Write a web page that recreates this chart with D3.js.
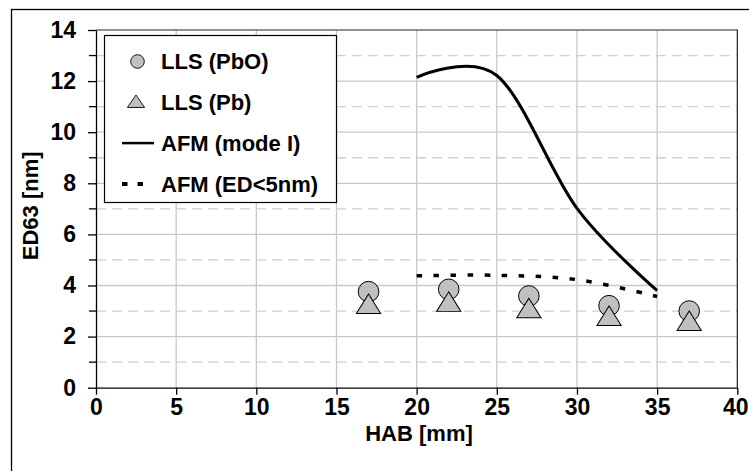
<!DOCTYPE html>
<html>
<head>
<meta charset="utf-8">
<script src="https://cdn.jsdelivr.net/npm/d3@7"></script>
<style>
  body { margin: 0; background: #fff; }
  svg { display: block; font-family: "Liberation Sans", Arial, sans-serif; font-weight: bold; }
</style>
</head>
<body>
<svg id="chart"></svg>
<script>
var hab = [17, 22, 27, 32, 37]
var llsPbO = [3.76, 3.85, 3.59, 3.21, 3.0]
var llsPb = [3.22, 3.3, 3.05, 2.75, 2.55]

var afmHab = [20, 25, 30, 35]
var afmMode1 = [12.15, 12.22, 7.02, 3.8]
var afmSmall = [4.38, 4.4, 4.23, 3.57]

var xTicks = [0, 5, 10, 15, 20, 25, 30, 35, 40]
var yTicks = [0, 2, 4, 6, 8, 10, 12, 14]
var yMinor = [1, 3, 5, 7, 9, 11, 13]

var legendItems = ["LLS (PbO)", "LLS (Pb)", "AFM (mode I)", "AFM (ED<5nm)"]

var width = 749, height = 471
var margin = ({top: 30, right: 11.7, bottom: 83.3, left: 96})

var svg = d3.select("#chart")
	.attr("width", width)
	.attr("height", height)
	.attr("viewBox", [0, 0, width, height])

var x = d3.scaleLinear()
	.domain([0, 40])
	.range([margin.left, width - margin.right])

var y = d3.scaleLinear()
	.domain([0, 14])
	.range([height - margin.bottom, margin.top])

// outer chart frame (only top and left edges are in view)
svg.append("rect")
	.attr("x", 11.5).attr("y", 9.5)
	.attr("width", width + 20).attr("height", height + 20)
	.attr("fill", "#fff")
	.attr("stroke", "#000")
	.attr("stroke-width", 1.3)

var grid = svg.append("g")

grid.selectAll(".ymajor")
	.data(yTicks.slice(1, -1))
	.join("line")
	.attr("x1", x(0)).attr("x2", x(40))
	.attr("y1", d => y(d)).attr("y2", d => y(d))
	.attr("stroke", "#c8c8c8")
	.attr("stroke-width", 1.3)

grid.selectAll(".yminor")
	.data(yMinor)
	.join("line")
	.attr("x1", x(0)).attr("x2", x(40))
	.attr("y1", d => y(d)).attr("y2", d => y(d))
	.attr("stroke", "#d0d0d0")
	.attr("stroke-width", 1.3)
	.attr("stroke-dasharray", "10,6")

grid.selectAll(".xmajor")
	.data(xTicks.slice(1, -1))
	.join("line")
	.attr("x1", d => x(d)).attr("x2", d => x(d))
	.attr("y1", y(0)).attr("y2", y(14))
	.attr("stroke", "#c8c8c8")
	.attr("stroke-width", 1.3)

// top and right edges of plot area
svg.append("path")
	.attr("fill", "none")
	.attr("stroke", "#222")
	.attr("stroke-width", 1.2)
	.attr("d", `M${x(0)},${y(14)}H${x(40)}V${y(0)}`)

var xAxis = g => g
	.attr("transform", `translate(0,${y(0)})`)
	.call(d3.axisBottom(x).tickValues(xTicks).tickSize(7).tickPadding(4).tickSizeOuter(0))
	.call(g => g.selectAll("line,path").attr("stroke", "#000").attr("stroke-width", 1.3))
	.call(g => g.selectAll("text").attr("font-size", 23).attr("font-weight", "bold").attr("fill", "#000"))
	.call(g => g.select(".tick:last-of-type text").attr("text-anchor", "end").attr("x", width - 1 - x(40)))

var yAxis = g => g
	.attr("transform", `translate(${margin.left},0)`)
	.call(d3.axisLeft(y).tickValues(yTicks).tickSize(8).tickPadding(12).tickSizeOuter(0))
	.call(g => g.selectAll("line,path").attr("stroke", "#000").attr("stroke-width", 1.3))
	.call(g => g.selectAll("text").attr("font-size", 23).attr("font-weight", "bold").attr("fill", "#000"))

svg.append("g").call(xAxis)
svg.append("g").call(yAxis)

svg.append("g")
	.selectAll("line")
	.data(yMinor)
	.join("line")
	.attr("x1", margin.left - 7).attr("x2", margin.left + 1)
	.attr("y1", d => y(d)).attr("y2", d => y(d))
	.attr("stroke", "#000")
	.attr("stroke-width", 1.3)

svg.append("text")
	.attr("text-anchor", "middle")
	.attr("x", 419)
	.attr("y", 441)
	.attr("font-size", 22)
	.text("HAB [mm]")

svg.append("text")
	.attr("text-anchor", "middle")
	.attr("transform", `translate(30,${(y(0) + y(14)) / 2 - 3}) rotate(-90)`)
	.attr("dy", "0.35em")
	.attr("font-size", 22)
	.text("ED63 [nm]")

var lineFunction = d3.line()
	.x((d, i) => x(afmHab[i]))
	.y(d => y(d))
	.curve(d3.curveCardinal.tension(0))

svg.append("path")
	.attr("fill", "none")
	.attr("stroke", "#000")
	.attr("stroke-width", 3)
	.attr("stroke-linejoin", "round")
	.attr("d", lineFunction(afmMode1))

svg.append("path")
	.attr("fill", "none")
	.attr("stroke", "#000")
	.attr("stroke-width", 3.5)
	.attr("stroke-dasharray", "5.5,11.5")
	.attr("d", lineFunction(afmSmall))

var tri = d3.symbol().type(d3.symbolTriangle)

svg.append("g")
	.selectAll("circle")
	.data(llsPbO)
	.join("circle")
	.attr("cx", (d, i) => x(hab[i]))
	.attr("cy", d => y(d))
	.attr("r", 10.3)
	.attr("fill", "#c0c0c0")
	.attr("stroke", "#000")
	.attr("stroke-width", 1)

svg.append("g")
	.selectAll("path")
	.data(llsPb)
	.join("path")
	.attr("transform", (d, i) => `translate(${x(hab[i])},${y(d) + 1.5}) scale(1.13,1.05)`)
	.attr("d", tri.size(200)())
	.attr("fill", "#c0c0c0")
	.attr("stroke", "#000")
	.attr("stroke-width", 0.9)

// legend
var legend = svg.append("g")

legend.append("rect")
	.attr("x", 104.5).attr("y", 35.5)
	.attr("width", 232).attr("height", 167)
	.attr("fill", "#fff")
	.attr("stroke", "#000")
	.attr("stroke-width", 1.2)

var rowY = i => 61.5 + i * 40.8

legend.append("circle")
	.attr("cx", 137.5).attr("cy", rowY(0))
	.attr("r", 6.8)
	.attr("fill", "#c0c0c0")
	.attr("stroke", "#000")
	.attr("stroke-width", 0.9)

legend.append("path")
	.attr("transform", `translate(136,${rowY(1) + 1}) scale(1.2,1)`)
	.attr("d", tri.size(90)())
	.attr("fill", "#c0c0c0")
	.attr("stroke", "#000")
	.attr("stroke-width", 0.8)

legend.append("line")
	.attr("x1", 122).attr("x2", 154)
	.attr("y1", rowY(2)).attr("y2", rowY(2))
	.attr("stroke", "#000")
	.attr("stroke-width", 2.5)

legend.append("line")
	.attr("x1", 122).attr("x2", 150)
	.attr("y1", rowY(3)).attr("y2", rowY(3))
	.attr("stroke", "#000")
	.attr("stroke-width", 4)
	.attr("stroke-dasharray", "5.5,10")

legend.selectAll("text")
	.data(legendItems)
	.join("text")
	.attr("x", 161)
	.attr("y", (d, i) => rowY(i))
	.attr("dy", "0.36em")
	.attr("font-size", 22)
	.text(d => d)
</script>
</body>
</html>
